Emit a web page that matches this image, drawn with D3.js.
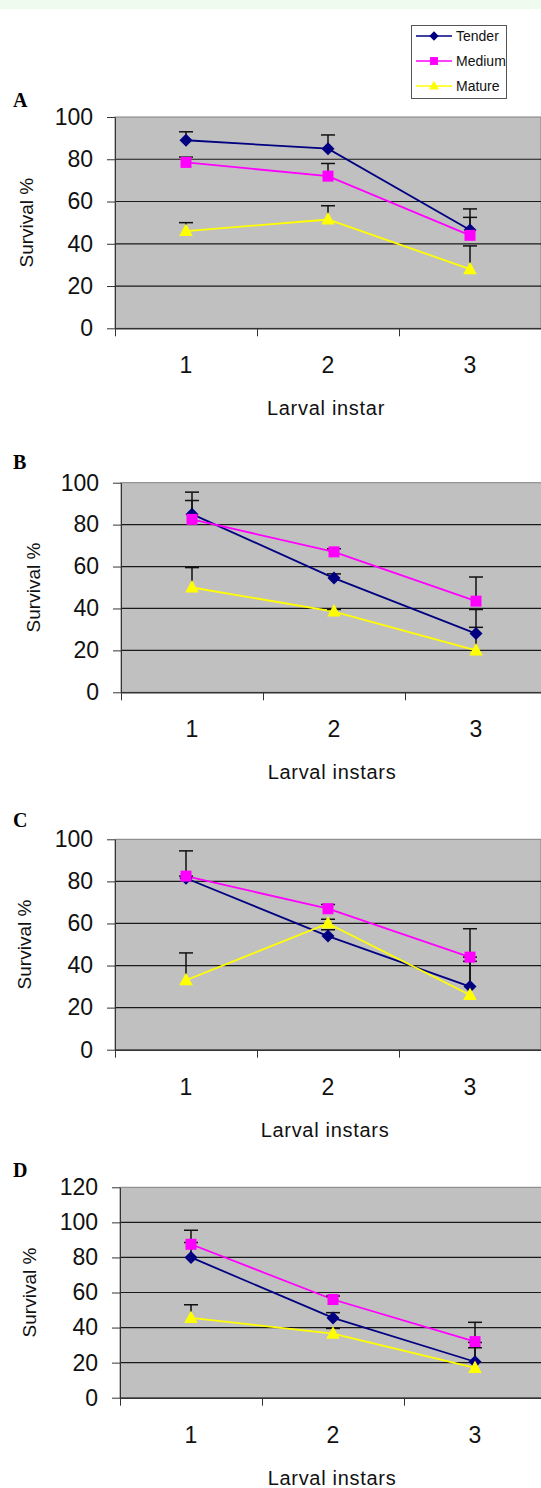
<!DOCTYPE html>
<html>
<head>
<meta charset="utf-8">
<script src="https://cdn.jsdelivr.net/npm/d3@7"></script>
<style>
  body { margin: 0; background: #fff; }
  svg { display: block; }
  text { font-family: "Liberation Sans", Arial, sans-serif; }
</style>
</head>
<body>
<script>
// categories and series
var categories = ["1", "2", "3"];
var seriesNames = ["Tender", "Medium", "Mature"];
var ticks100 = [0, 20, 40, 60, 80, 100];
var ticks120 = [0, 20, 40, 60, 80, 100, 120];

// panel A
var tenderA = [89, 85, 46.5];
var mediumA = [78.5, 72, 44];
var matureA = [46, 51.5, 28];
var tenderErrA = [4, 6.5, 10];
var mediumErrA = [2.5, 6, 8.5];
var matureErrA = [4, 6.5, 11];

// panel B
var tenderB = [85, 54.5, 28];
var mediumB = [82.5, 67, 43.5];
var matureB = [50, 38.5, 20];
var tenderErrB = [10.5, 2, 11.5];
var mediumErrB = [9, 1.5, 11.5];
var matureErrB = [9.5, 1, 11];

// panel C
var tenderC = [81.5, 54, 30];
var mediumC = [82.5, 67, 44];
var matureC = [33, 60, 26];
var tenderErrC = [1, 3, 14];
var mediumErrC = [12, 2, 13.5];
var matureErrC = [13, 2, 16];

// panel D
var tenderD = [80, 45.5, 20.5];
var mediumD = [87.5, 56, 32];
var matureD = [45.5, 36.5, 17];
var tenderErrD = [8.5, 3, 8];
var mediumErrD = [8, 2, 11];
var matureErrD = [7.5, 3, 14.5];

var colors = ["#000080", "#ff00ff", "#ffff00"];

// layout of the four panels
var plotW = 426;
var panels = [
  { letter: "A", left: 115, top: 117, bottom: 328.3, yMax: 100, ticks: ticks100, ylabX: 26,
    xTitle: "Larval instar", xTitleX: 326, xTitleY: 415, letterY: 107,
    values: [tenderA, mediumA, matureA], errs: [tenderErrA, mediumErrA, matureErrA] },
  { letter: "B", left: 121, top: 482.7, bottom: 692.3, yMax: 100, ticks: ticks100, ylabX: 33,
    xTitle: "Larval instars", xTitleX: 332, xTitleY: 778.5, letterY: 469,
    values: [tenderB, mediumB, matureB], errs: [tenderErrB, mediumErrB, matureErrB] },
  { letter: "C", left: 115, top: 839.3, bottom: 1049.7, yMax: 100, ticks: ticks100, ylabX: 24,
    xTitle: "Larval instars", xTitleX: 325, xTitleY: 1136.5, letterY: 827,
    values: [tenderC, mediumC, matureC], errs: [tenderErrC, mediumErrC, matureErrC] },
  { letter: "D", left: 120, top: 1187.3, bottom: 1397.7, yMax: 120, ticks: ticks120, ylabX: 29,
    xTitle: "Larval instars", xTitleX: 332, xTitleY: 1485, letterY: 1176.5,
    values: [tenderD, mediumD, matureD], errs: [tenderErrD, mediumErrD, matureErrD] }
];

var w = 541, h = 1488;
var svg = d3.select("body").append("svg")
    .attr("width", w)
    .attr("height", h);

// pale band along the top
svg.append("rect")
    .attr("width", w)
    .attr("height", 9)
    .attr("fill", "#eefbee");

function marker(sel, i, s) {
  s = s || 1;
  if (i === 0) {
    sel.append("path")
        .attr("d", "M0," + (-6.5 * s) + "L" + (6.5 * s) + ",0L0," + (6.5 * s) + "L" + (-6.5 * s) + ",0Z")
        .attr("fill", colors[0]);
  } else if (i === 1) {
    sel.append("rect")
        .attr("x", -5.5 * s).attr("y", -5.5 * s)
        .attr("width", 11 * s).attr("height", 11 * s)
        .attr("fill", colors[1]);
  } else {
    sel.append("path")
        .attr("d", "M0," + (-7.5 * s) + "L" + (6.8 * s) + "," + (5 * s) + "L" + (-6.8 * s) + "," + (5 * s) + "Z")
        .attr("fill", colors[2]);
  }
}

panels.forEach(function(p) {
  var g = svg.append("g");
  var x = d3.scaleBand().domain(categories).range([p.left, p.left + plotW]);
  var xb = d3.scaleLinear().domain([0, 3]).range([p.left, p.left + plotW]);
  var y = d3.scaleLinear().domain([0, p.yMax]).range([p.bottom, p.top]);
  var cx = function(i) { return x(categories[i]) + x.bandwidth() / 2; };

  g.append("rect")
      .attr("x", p.left).attr("y", p.top)
      .attr("width", plotW).attr("height", p.bottom - p.top)
      .attr("fill", "#c0c0c0")
      .attr("stroke", "#808080");

  g.selectAll(".grid")
      .data(p.ticks.filter(function(t) { return t > 0 && t < p.yMax; }))
    .enter().append("line")
      .attr("x1", p.left).attr("x2", p.left + plotW)
      .attr("y1", function(d) { return y(d); })
      .attr("y2", function(d) { return y(d); })
      .attr("stroke", "#1a1a1a")
      .attr("stroke-width", 1.2);

  // y axis
  var ya = g.append("g")
      .attr("transform", "translate(" + p.left + ",0)")
      .call(d3.axisLeft(y).tickValues(p.ticks).tickSize(8).tickPadding(14).tickSizeOuter(0));
  ya.selectAll("line, path").attr("stroke", "#333");
  ya.selectAll("text").attr("font-size", 23).attr("fill", "#111")
      .style("font-family", "'Liberation Sans', Arial, sans-serif");

  // x axis labels
  var xa = g.append("g")
      .attr("transform", "translate(0," + p.bottom + ")")
      .call(d3.axisBottom(x).tickSize(0).tickPadding(28.5).tickSizeOuter(0));
  xa.select(".domain").attr("stroke", "#333").attr("stroke-width", 1.5);
  xa.selectAll("text").attr("font-size", 23).attr("fill", "#111")
      .style("font-family", "'Liberation Sans', Arial, sans-serif");

  // tick marks between categories
  var xt = g.append("g")
      .attr("transform", "translate(0," + p.bottom + ")")
      .call(d3.axisBottom(xb).tickValues([0, 1, 2, 3]).tickFormat("").tickSize(8).tickSizeOuter(0));
  xt.select(".domain").remove();
  xt.selectAll("line").attr("stroke", "#333");

  // titles
  g.append("text")
      .attr("transform", "translate(" + p.ylabX + "," + ((p.top + p.bottom) / 2) + ") rotate(-90)")
      .attr("text-anchor", "middle")
      .attr("dy", "0.35em")
      .attr("font-size", 19)
      .attr("fill", "#111")
      .text("Survival %");

  g.append("text")
      .attr("x", p.xTitleX).attr("y", p.xTitleY)
      .attr("text-anchor", "middle")
      .attr("font-size", 20)
      .attr("letter-spacing", 0.7)
      .attr("fill", "#111")
      .text(p.xTitle);

  g.append("text")
      .attr("x", 13).attr("y", p.letterY)
      .attr("font-size", 20)
      .attr("font-weight", "bold")
      .style("font-family", "'Liberation Serif', 'Times New Roman', serif")
      .attr("fill", "#000")
      .text(p.letter);

  // series lines
  var line = d3.line()
      .x(function(d, i) { return cx(i); })
      .y(function(d) { return y(d); });

  p.values.forEach(function(vals, si) {
    g.append("path")
        .datum(vals)
        .attr("d", line)
        .attr("fill", "none")
        .attr("stroke", colors[si])
        .attr("stroke-width", 1.8);
  });

  // error bars (plus direction)
  p.values.forEach(function(vals, si) {
    var eb = g.append("g").selectAll("g")
        .data(vals)
      .enter().append("g");
    eb.append("line")
        .attr("x1", function(d, i) { return cx(i); })
        .attr("x2", function(d, i) { return cx(i); })
        .attr("y1", function(d) { return y(d); })
        .attr("y2", function(d, i) { return y(d + p.errs[si][i]); })
        .attr("stroke", "#111")
        .attr("stroke-width", 1.5);
    eb.append("line")
        .attr("x1", function(d, i) { return cx(i) - 7; })
        .attr("x2", function(d, i) { return cx(i) + 7; })
        .attr("y1", function(d, i) { return y(d + p.errs[si][i]); })
        .attr("y2", function(d, i) { return y(d + p.errs[si][i]); })
        .attr("stroke", "#111")
        .attr("stroke-width", 1.5);
  });

  // markers
  p.values.forEach(function(vals, si) {
    g.append("g").selectAll("g")
        .data(vals)
      .enter().append("g")
        .attr("transform", function(d, i) { return "translate(" + cx(i) + "," + y(d) + ")"; })
        .each(function() { marker(d3.select(this), si); });
  });
});

// legend
var lg = svg.append("g");
lg.append("rect")
    .attr("x", 411.5).attr("y", 25.5)
    .attr("width", 95).attr("height", 73)
    .attr("fill", "#fff")
    .attr("stroke", "#555");

var items = lg.selectAll(".item")
    .data(seriesNames)
  .enter().append("g")
    .attr("transform", function(d, i) { return "translate(0," + (36 + i * 25) + ")"; });
items.append("line")
    .attr("x1", 416).attr("x2", 452)
    .attr("stroke", function(d, i) { return colors[i]; })
    .attr("stroke-width", 1.6);
items.append("g")
    .attr("transform", "translate(434,0)")
    .each(function(d, i) { marker(d3.select(this), i, 0.72); });
items.append("text")
    .attr("x", 456)
    .attr("dy", "0.35em")
    .attr("font-size", 14)
    .attr("fill", "#111")
    .text(function(d) { return d; });
</script>
</body>
</html>
